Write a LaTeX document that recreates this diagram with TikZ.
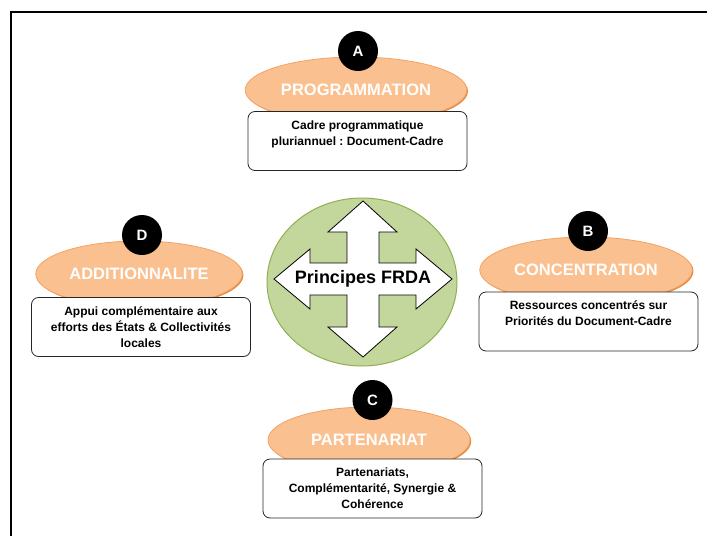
\documentclass[tikz,border=0pt]{standalone}
\usepackage{fontspec}
\setmainfont{Liberation Sans}
\usetikzlibrary{shapes.geometric,shadows}
\definecolor{peche}{HTML}{FAC090}
\definecolor{pechebord}{HTML}{F2A365}
\definecolor{pecheombre}{HTML}{E3893F}
\definecolor{vert}{HTML}{C3D69B}
\definecolor{vertbord}{HTML}{8FB151}
\frenchspacing
\begin{document}
\begin{tikzpicture}[x=1pt, y=-1pt,
  principe/.style={ellipse, fill=peche, draw=pechebord, line width=.8pt, minimum width=202pt, minimum height=66pt, text=white, font=\fontsize{16.5}{18}\selectfont\bfseries, drop shadow={shadow xshift=1.2pt, shadow yshift=-1.2pt, fill=pecheombre, opacity=1}},
  lettre/.style={circle, fill=black, minimum size=40pt, inner sep=0pt, text=white, font=\fontsize{15}{15}\selectfont\bfseries},
  cadre/.style={rectangle, rounded corners=7pt, draw=black!85, fill=white, line width=.8pt, minimum width=219pt, minimum height=59pt, align=center, font=\fontsize{12}{16}\selectfont\bfseries}]
\useasboundingbox (0,0) rectangle (707,536);
\draw[line width=1.3pt](11,536)--(11,12)--(707,12);
% centre
\node[ellipse, fill=vert, draw=vertbord, line width=1pt, minimum width=190pt, minimum height=168pt](centre) at (362,282){};
\draw[fill=white, line width=.8pt](363,201)--(397,232)--(379,232)--(379,263)--(416,263)--(416,249)--(452,279)--(416,309)--(416,295)--(379,295)--(379,327)--(397,327)--(363,357)--(328,327)--(347,327)--(347,295)--(310,295)--(310,309)--(274,279)--(310,249)--(310,263)--(347,263)--(347,232)--(328,232)--cycle;
\node[font=\fontsize{18}{20}\selectfont\bfseries](frda) at (363,279){Principes FRDA};
% A
\node[principe](progr) at (356,90){PROGRAMMATION};
\node[lettre](a) at (358,51){A};
\node[cadre](ca) at (357.5,141){Cadre programmatique\\pluriannuel : Document-Cadre\\\mbox{}};
% B
\node[principe](conc) at (586,270){CONCENTRATION};
\node[lettre](b) at (588,231){B};
\node[cadre](cb) at (588.5,321.5){Ressources concentrés sur\\Priorités du Document-Cadre\\\mbox{}};
% C
\node[principe](part) at (369,440){PARTENARIAT};
\node[lettre](c) at (372.5,400){C};
\node[cadre](cc) at (372.5,488.5){Partenariats,\\Complémentarité, Synergie \&\\Cohérence};
% D
\node[principe](addi) at (139,274){ADDITIONNALITE};
\node[lettre](d) at (142,235){D};
\node[cadre](cd) at (141,327){Appui complémentaire aux\\efforts des États \& Collectivités\\locales};
\end{tikzpicture}
\end{document}
